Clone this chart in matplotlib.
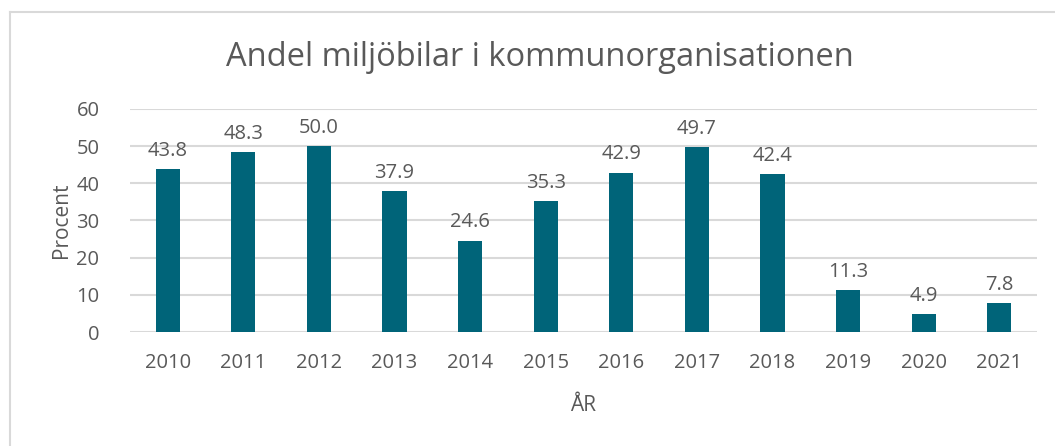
import matplotlib
matplotlib.use('Agg')
import matplotlib.pyplot as plt
from matplotlib.lines import Line2D

years = ['2010', '2011', '2012', '2013', '2014', '2015',
         '2016', '2017', '2018', '2019', '2020', '2021']
share = [43.8, 48.3, 50.0, 37.9, 24.6, 35.3, 42.9, 49.7, 42.4, 11.3, 4.9, 7.8]
yticks = [0, 10, 20, 30, 40, 50, 60]

bar_color = '#006479'
text_color = '#595959'
grid_color = '#d9d9d9'

plt.rcParams['font.family'] = ['Open Sans', 'DejaVu Sans']

W, H = 1055, 446
fig = plt.figure(figsize=(W / 100, H / 100), dpi=100)

# chart border (only left and top visible)
fig.lines.append(Line2D([10 / W, 1.0], [1 - 12 / H, 1 - 12 / H],
                        transform=fig.transFigure, color=grid_color, linewidth=1.5))
fig.lines.append(Line2D([10 / W, 10 / W], [0.0, 1 - 12 / H],
                        transform=fig.transFigure, color=grid_color, linewidth=1.5))

ax = fig.add_axes([130 / W, (H - 332) / H, (1037 - 130) / W, (332 - 109) / H])
x = range(len(years))
ax.bar(x, share, width=0.32, color=bar_color, zorder=3)

for xi, v in zip(x, share):
    ax.text(xi, v + 2.2, f'{v:.1f}', ha='center', va='bottom',
            fontsize=14.5, color=text_color)

ax.set_xlim(-0.5, len(years) - 0.5)
ax.set_ylim(0, 60)
ax.set_yticks(yticks)
ax.set_xticks(list(x))
ax.set_xticklabels(years)
ax.tick_params(axis='both', length=0, labelsize=14.5, labelcolor=text_color)
ax.tick_params(axis='x', pad=15)
ax.tick_params(axis='y', pad=22)
ax.grid(axis='y', color=grid_color, linewidth=1.5, zorder=0)
for s in ax.spines.values():
    s.set_visible(False)

ax.set_ylabel('Procent', fontsize=15, color=text_color, labelpad=3)
ax.set_xlabel('ÅR', fontsize=15, color=text_color, labelpad=16)

fig.text(540 / W, 1 - 57 / H, 'Andel miljöbilar i kommunorganisationen',
         ha='center', va='center', fontsize=23.5, color=text_color)

fig.savefig('out.png', dpi=100)
